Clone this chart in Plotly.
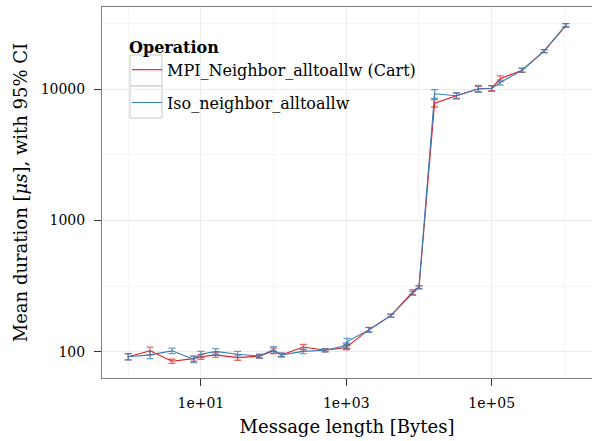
import plotly.graph_objects as go

# Message lengths [Bytes]
msg_len = [1, 2, 4, 8, 10, 16, 32, 64, 100, 128, 256, 512, 1000, 1024, 2048, 4096,
           8192, 10000, 16384, 32768, 65536, 100000, 131072, 262144, 524288, 1048576]

# Mean durations [us]
mpi_mean = [92, 102, 85, 89, 92, 95, 90.5, 93, 102, 95, 109, 103, 108, 110, 148, 189,
            286, 310, 7800, 8900, 10000, 10150, 12000, 13900, 19450, 30400]
iso_mean = [92, 95, 102, 88, 96, 101, 96, 93, 104, 95, 101, 103, 112, 120, 147, 189,
            279, 312, 9200, 8900, 10050, 10100, 11200, 13900, 19450, 30600]

# 95% CI half-widths [us]
mpi_ci = [5, 7, 3, 4, 4, 4, 4, 3, 5, 3, 5, 3, 4, 4, 6, 5,
          12, 8, 500, 400, 500, 450, 600, 500, 500, 1000]
iso_ci = [5, 6, 5, 5, 5, 5, 5, 3, 6, 3, 4, 3, 5, 7, 6, 5,
          10, 8, 700, 500, 600, 500, 500, 450, 500, 800]

series_names = ["MPI_Neighbor_alltoallw (Cart)", "Iso_neighbor_alltoallw"]
series_colors = ["#E41A1C", "#377EB8"]
bar_colors = ["rgba(228,26,28,0.65)", "rgba(55,126,184,0.75)"]

x_tickvals = [10, 1000, 100000]
x_ticktext = ["1e+01", "1e+03", "1e+05"]
x_minor = [1, 100, 10000, 1000000]
y_tickvals = [100, 1000, 10000]
y_ticktext = ["100", "1000", "10000"]
y_minor = [10 ** 2.5, 10 ** 3.5, 10 ** 4.5]

FONT = "DejaVu Serif"

# plot area in pixels (for legend decoration placement)
L, R, T, B = 102, 592, 7, 378
def px(x):
    return (x - L) / (R - L)
def py(y):
    return 1 - (y - T) / (B - T)

fig = go.Figure()
for i, (name, ys, ci, col, bcol) in enumerate(zip(series_names, [mpi_mean, iso_mean],
                                                  [mpi_ci, iso_ci], series_colors, bar_colors)):
    fig.add_trace(go.Scatter(
        x=msg_len, y=ys, mode="lines", name=name, legendgroup=f"g{i}",
        line=dict(color=col, width=1.1),
        error_y=dict(type="data", array=ci, visible=True, color=bcol,
                     thickness=1.3, width=3.5),
    ))

shapes = [
    # legend background (between grid and traces)
    dict(type="rect", xref="paper", yref="paper", x0=px(126), x1=px(434), y0=py(123), y1=py(29),
         fillcolor="white", line=dict(width=0), layer="between"),
    # legend key boxes
    dict(type="rect", xref="paper", yref="paper", x0=px(130), x1=px(162), y0=py(86), y1=py(55),
         fillcolor="white", line=dict(color="#C8C8C8", width=1), layer="between"),
    dict(type="rect", xref="paper", yref="paper", x0=px(130), x1=px(162), y0=py(118), y1=py(86),
         fillcolor="white", line=dict(color="#C8C8C8", width=1), layer="between"),
]

fig.update_layout(
    width=592, height=441,
    margin=dict(l=L, r=592 - R, t=T, b=441 - B),
    paper_bgcolor="white", plot_bgcolor="white",
    font=dict(family=FONT, color="black", size=14),
    showlegend=True,
    shapes=shapes,
    legend=dict(
        x=px(127), y=py(32), xanchor="left", yanchor="top",
        bgcolor="rgba(0,0,0,0)", borderwidth=0,
        title=dict(text="<b>Operation</b>", font=dict(size=16, family=FONT)),
        font=dict(size=16, family=FONT),
        tracegroupgap=9,
    ),
)

fig.update_xaxes(
    type="log", range=[-0.36, 6.38],
    tickmode="array", tickvals=x_tickvals, ticktext=x_ticktext,
    ticks="outside", ticklen=7, tickcolor="#333333", tickwidth=1,
    ticklabelstandoff=5,
    tickfont=dict(size=14, family=FONT, color="black"),
    showgrid=True, gridcolor="#EBEBEB", gridwidth=1,
    minor=dict(tickvals=x_minor, showgrid=True, gridcolor="#F5F5F5", ticklen=0),
    showline=True, linecolor="#7F7F7F", linewidth=1, mirror=True,
    zeroline=False,
    title=dict(text="Message length [Bytes]", font=dict(size=18, family=FONT), standoff=10),
)
fig.update_yaxes(
    type="log", range=[1.802, 4.624],
    tickmode="array", tickvals=y_tickvals, ticktext=y_ticktext,
    ticks="outside", ticklen=7, tickcolor="#333333", tickwidth=1,
    ticklabelstandoff=6,
    tickfont=dict(size=14, family=FONT, color="black"),
    showgrid=True, gridcolor="#EBEBEB", gridwidth=1,
    minor=dict(tickvals=y_minor, showgrid=True, gridcolor="#F5F5F5", ticklen=0),
    showline=True, linecolor="#7F7F7F", linewidth=1, mirror=True,
    zeroline=False,
    title=dict(text="Mean duration [<i>μs</i>], with 95% CI", font=dict(size=18, family=FONT), standoff=8),
)

fig.write_html("out.html")
